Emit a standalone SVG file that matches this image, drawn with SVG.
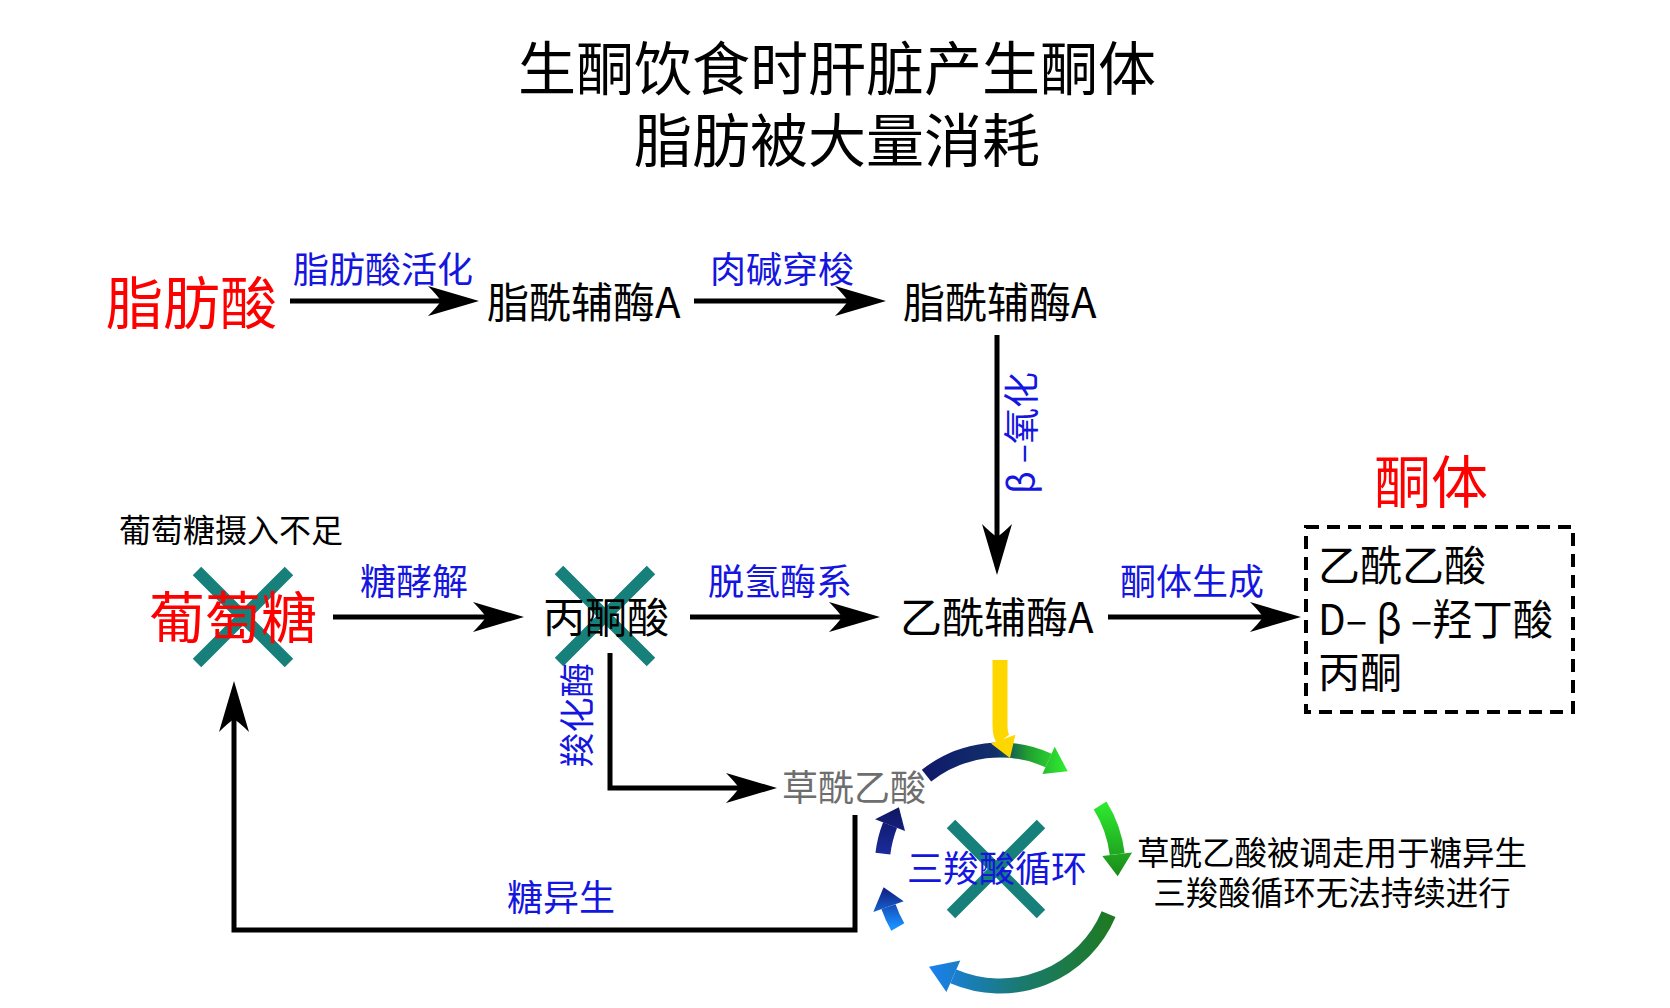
<svg xmlns="http://www.w3.org/2000/svg" width="1670" height="1008" viewBox="0 0 1670 1008">
<style>
text{font-family:"Noto Sans CJK SC","Noto Sans",sans-serif;}
.title{font-size:58px;fill:#000;text-anchor:middle;}
.red{font-size:57px;fill:#ff0000;}
.node{font-size:42px;fill:#000;}
.lbl{font-size:36px;fill:#1515e0;}
.note{font-size:32.5px;fill:#000;}
.gray{font-size:36px;fill:#6e6e6e;}
.conn{fill:none;stroke:#000;stroke-width:5;}
.cross{stroke:#17807a;stroke-width:12;}
.arc{fill:none;stroke-width:15;}
</style>
<defs>
<marker id="ah" viewBox="-15 -16 54 32" refX="0" refY="0" markerWidth="54" markerHeight="32" markerUnits="userSpaceOnUse" orient="auto">
<path d="M38,0 L-13,-15 Q-4,-6 0,0 Q-4,6 -13,15 Z" fill="#000"/>
</marker>
<linearGradient id="gTop" gradientUnits="userSpaceOnUse" x1="926" y1="0" x2="1068" y2="0">
<stop offset="0" stop-color="#0f1a6b"/><stop offset="0.5" stop-color="#12306a"/><stop offset="0.72" stop-color="#20a030"/><stop offset="1" stop-color="#30f030"/>
</linearGradient>
<linearGradient id="gRight" gradientUnits="userSpaceOnUse" x1="0" y1="805" x2="0" y2="876">
<stop offset="0" stop-color="#2ee82e"/><stop offset="1" stop-color="#1a8a1a"/>
</linearGradient>
<linearGradient id="gBot" gradientUnits="userSpaceOnUse" x1="1110" y1="0" x2="930" y2="0">
<stop offset="0" stop-color="#1e7a22"/><stop offset="0.5" stop-color="#1a7a70"/><stop offset="1" stop-color="#1a80f0"/>
</linearGradient>
<linearGradient id="gLL" gradientUnits="userSpaceOnUse" x1="0" y1="927" x2="0" y2="887">
<stop offset="0" stop-color="#1a90ff"/><stop offset="1" stop-color="#101a80"/>
</linearGradient>
<linearGradient id="gUL" gradientUnits="userSpaceOnUse" x1="0" y1="853" x2="0" y2="807">
<stop offset="0" stop-color="#1a2a9a"/><stop offset="1" stop-color="#0f1560"/>
</linearGradient>
</defs>
<rect width="1670" height="1008" fill="#fff"/>

<g id="title">
<text class="title" x="837" y="90">生酮饮食时肝脏产生酮体</text>
<text class="title" x="837" y="162">脂肪被大量消耗</text>
</g>

<g id="tca-cycle">
<path class="arc" stroke="url(#gTop)" d="M926.5,775.7 A118,118 0 0 1 1048.6,760.5"/>
<polygon fill="url(#gTop)" points="1042.4,774.1 1054.7,746.8 1067.7,771.3"/>
<path class="arc" stroke="url(#gRight)" d="M1100.1,805.5 A118,118 0 0 1 1117.2,854.2"/>
<polygon fill="url(#gRight)" points="1102.3,856.0 1132.1,852.5 1117.7,876.2"/>
<path class="arc" stroke="url(#gBot)" d="M1108.6,914.1 A118,118 0 0 1 953.3,976.4"/>
<polygon fill="url(#gBot)" points="960.3,960.6 946.4,992.1 929.0,966.8"/>
<path class="arc" stroke="url(#gLL)" d="M897.8,927.0 A118,118 0 0 1 888.5,906.6"/>
<polygon fill="url(#gLL)" points="903.7,901.2 873.3,912.0 883.6,887.3"/>
<path class="arc" stroke="url(#gUL)" d="M882.9,853.6 A118,118 0 0 1 890.1,825.1"/>
<polygon fill="url(#gUL)" points="905.0,831.0 875.1,819.2 898.9,807.2"/>
<path class="arc" stroke="#ffd700" d="M1000,660 L1000,725 Q1000,735 1003.2,739.2"/>
<polygon fill="#ffd700" points="991.0,743.6 1015.4,734.8 1010,758"/>
</g>

<g id="blocked-marks">
<path class="cross" d="M197,571 L289,663 M289,571 L197,663"/>
<path class="cross" d="M559,570 L651,662 M651,570 L559,662"/>
<path class="cross" d="M951,824 L1041,914 M1041,824 L951,914"/>
</g>

<g id="connectors">
<line class="conn" x1="290" y1="301" x2="441" y2="301" marker-end="url(#ah)"/>
<line class="conn" x1="694" y1="301" x2="848" y2="301" marker-end="url(#ah)"/>
<line class="conn" x1="997" y1="335" x2="997" y2="537" marker-end="url(#ah)"/>
<line class="conn" x1="333" y1="617" x2="486" y2="617" marker-end="url(#ah)"/>
<line class="conn" x1="690" y1="617" x2="842" y2="617" marker-end="url(#ah)"/>
<line class="conn" x1="1108" y1="617" x2="1263" y2="617" marker-end="url(#ah)"/>
<path class="conn" d="M610,653 V788 H739" marker-end="url(#ah)"/>
<path class="conn" d="M855,815 V930 H234 V719" marker-end="url(#ah)"/>
</g>

<g id="n-fatty-acid"><text class="red" x="106" y="324">脂肪酸</text></g>
<g id="l-activation"><text class="lbl" x="293" y="283">脂肪酸活化</text></g>
<g id="n-acyl-coa-1"><text class="node" x="487" y="318">脂酰辅酶A</text></g>
<g id="l-carnitine"><text class="lbl" x="710" y="283">肉碱穿梭</text></g>
<g id="n-acyl-coa-2"><text class="node" x="903" y="318">脂酰辅酶A</text></g>
<g id="l-beta-ox"><text class="lbl" text-anchor="middle" transform="translate(1022,433) rotate(-90)" x="0" y="13">β –氧化</text></g>

<g id="n-glucose-note"><text class="note" x="119" y="542" style="font-size:32px">葡萄糖摄入不足</text></g>
<g id="n-glucose"><text class="red" x="149" y="638" style="font-size:56px">葡萄糖</text></g>
<g id="l-glycolysis"><text class="lbl" x="360" y="595">糖酵解</text></g>
<g id="n-pyruvate"><text class="node" x="543" y="633">丙酮酸</text></g>
<g id="l-dehydrogenase"><text class="lbl" x="708" y="595">脱氢酶系</text></g>
<g id="n-acetyl-coa"><text class="node" x="900" y="633">乙酰辅酶A</text></g>
<g id="l-ketogenesis"><text class="lbl" x="1120" y="595">酮体生成</text></g>

<g id="n-ketone-bodies">
<text class="red" x="1374" y="503">酮体</text>
<rect x="1306" y="527" width="267" height="185" fill="none" stroke="#000" stroke-width="4" stroke-dasharray="13 8"/>
<text class="node" x="1318" y="581">乙酰乙酸</text>
<text class="node" x="1318" y="635" textLength="235" lengthAdjust="spacingAndGlyphs">D– β –羟丁酸</text>
<text class="node" x="1318" y="688">丙酮</text>
</g>

<g id="l-carboxylase"><text class="lbl" text-anchor="middle" transform="translate(577,715) rotate(-90)" x="0" y="13" style="font-size:35px">羧化酶</text></g>
<g id="n-oxaloacetate"><text class="gray" x="782" y="801">草酰乙酸</text></g>
<g id="n-tca"><text class="lbl" x="907" y="882">三羧酸循环</text></g>
<g id="l-gluconeogenesis"><text class="lbl" x="507" y="911">糖异生</text></g>
<g id="n-tca-note">
<text class="note" x="1332" y="865" text-anchor="middle">草酰乙酸被调走用于糖异生</text>
<text class="note" x="1332" y="905" text-anchor="middle">三羧酸循环无法持续进行</text>
</g>
</svg>
